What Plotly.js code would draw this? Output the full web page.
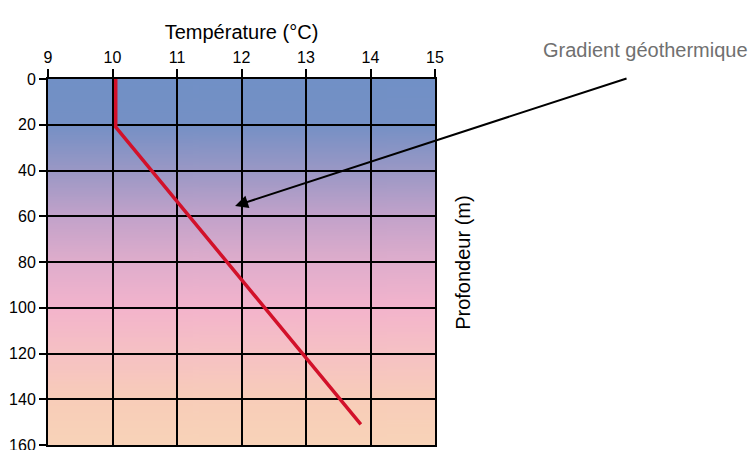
<!DOCTYPE html>
<html>
<head>
<meta charset="utf-8">
<script src="https://cdn.plot.ly/plotly-3.0.1.min.js"></script>
<style>html,body{margin:0;padding:0;background:#fff}#chart{width:750px;height:450px}</style>
</head>
<body>
<div id="chart"></div>
<script>
// Temperature profile (°C) versus depth (m)
var temperature = [10.05, 10.05, 13.85];
var depth = [0, 21, 151];

// Background colour band along depth
var bgDepth = [0, 20, 40, 60, 80, 100, 120, 140, 160];
var bgColor = ['#7190c6', '#7590c5', '#9a98c5', '#c2a2ca', '#dfadcc', '#f3b4cc', '#f6c1c4', '#f8cdb9', '#f8d3b8'];

// Axis ticks
var xTicks = [9, 10, 11, 12, 13, 14, 15];
var yTicks = [0, 20, 40, 60, 80, 100, 120, 140, 160];

// Arrow annotation target
var arrowTarget = {x: 11.9, y: 55.5};
var labelText = 'Gradient géothermique';

function gradientURI() {
  var c = document.createElement('canvas');
  c.width = 4; c.height = 400;
  var ctx = c.getContext('2d');
  var g = ctx.createLinearGradient(0, 0, 0, c.height);
  var maxD = bgDepth[bgDepth.length - 1];
  for (var i = 0; i < bgDepth.length; i++) g.addColorStop(bgDepth[i] / maxD, bgColor[i]);
  ctx.fillStyle = g;
  ctx.fillRect(0, 0, c.width, c.height);
  return c.toDataURL('image/png');
}

var font = 'Liberation Sans Narrow, Arial Narrow, Liberation Sans, Arial, sans-serif';

var trace = {
  x: temperature, y: depth, type: 'scatter', mode: 'lines',
  line: {color: '#d2112a', width: 3.5},
  hoverinfo: 'skip', showlegend: false
};

var layout = {
  width: 750, height: 450,
  margin: {l: 48, r: 315, t: 79, b: 5},
  paper_bgcolor: '#ffffff', plot_bgcolor: '#ffffff',
  font: {family: font, color: '#000', size: 15},
  xaxis: {
    side: 'top', range: [xTicks[0], xTicks[xTicks.length - 1]],
    tickvals: xTicks, ticktext: xTicks.map(String),
    ticks: 'outside', ticklen: 8, tickwidth: 2, tickcolor: '#000',
    showline: true, linewidth: 2, linecolor: '#000', mirror: true,
    showgrid: true, gridcolor: '#000', gridwidth: 2, zeroline: false,
    tickfont: {size: 16, family: font}, ticklabeloverflow: 'allow',
    title: {text: 'Température (°C)', font: {size: 20, family: font}, standoff: 4}
  },
  yaxis: {
    range: [yTicks[yTicks.length - 1], yTicks[0]],
    tickvals: yTicks, ticktext: yTicks.map(String),
    ticks: 'outside', ticklen: 7, tickwidth: 2, tickcolor: '#000',
    showline: true, linewidth: 2, linecolor: '#000', mirror: true,
    showgrid: true, gridcolor: '#000', gridwidth: 2, zeroline: false,
    tickfont: {size: 16, family: font}, ticklabeloverflow: 'allow'
  },
  images: [{
    source: gradientURI(), xref: 'x', yref: 'y',
    x: xTicks[0], y: yTicks[0], sizex: xTicks[xTicks.length - 1] - xTicks[0], sizey: yTicks[yTicks.length - 1] - yTicks[0],
    xanchor: 'left', yanchor: 'top', sizing: 'stretch', layer: 'below'
  }],
  annotations: [
    {
      x: arrowTarget.x, y: arrowTarget.y, xref: 'x', yref: 'y',
      ax: 393, ay: -128, axref: 'pixel', ayref: 'pixel',
      text: '', showarrow: true, arrowhead: 2, arrowsize: 1.3, arrowwidth: 2, arrowcolor: '#000'
    },
    {
      x: 1.543, y: 1.079, xref: 'paper', yref: 'paper', xanchor: 'center', yanchor: 'middle',
      text: labelText, showarrow: false, font: {size: 20, color: '#707070', family: font}
    },
    {
      x: 1.072, y: 0.5, xref: 'paper', yref: 'paper', xanchor: 'center', yanchor: 'middle',
      text: 'Profondeur (m)', textangle: -90, showarrow: false, font: {size: 20, color: '#000', family: font}
    }
  ]
};

Plotly.newPlot('chart', [trace], layout, {displayModeBar: false, staticPlot: true});
</script>
</body>
</html>
